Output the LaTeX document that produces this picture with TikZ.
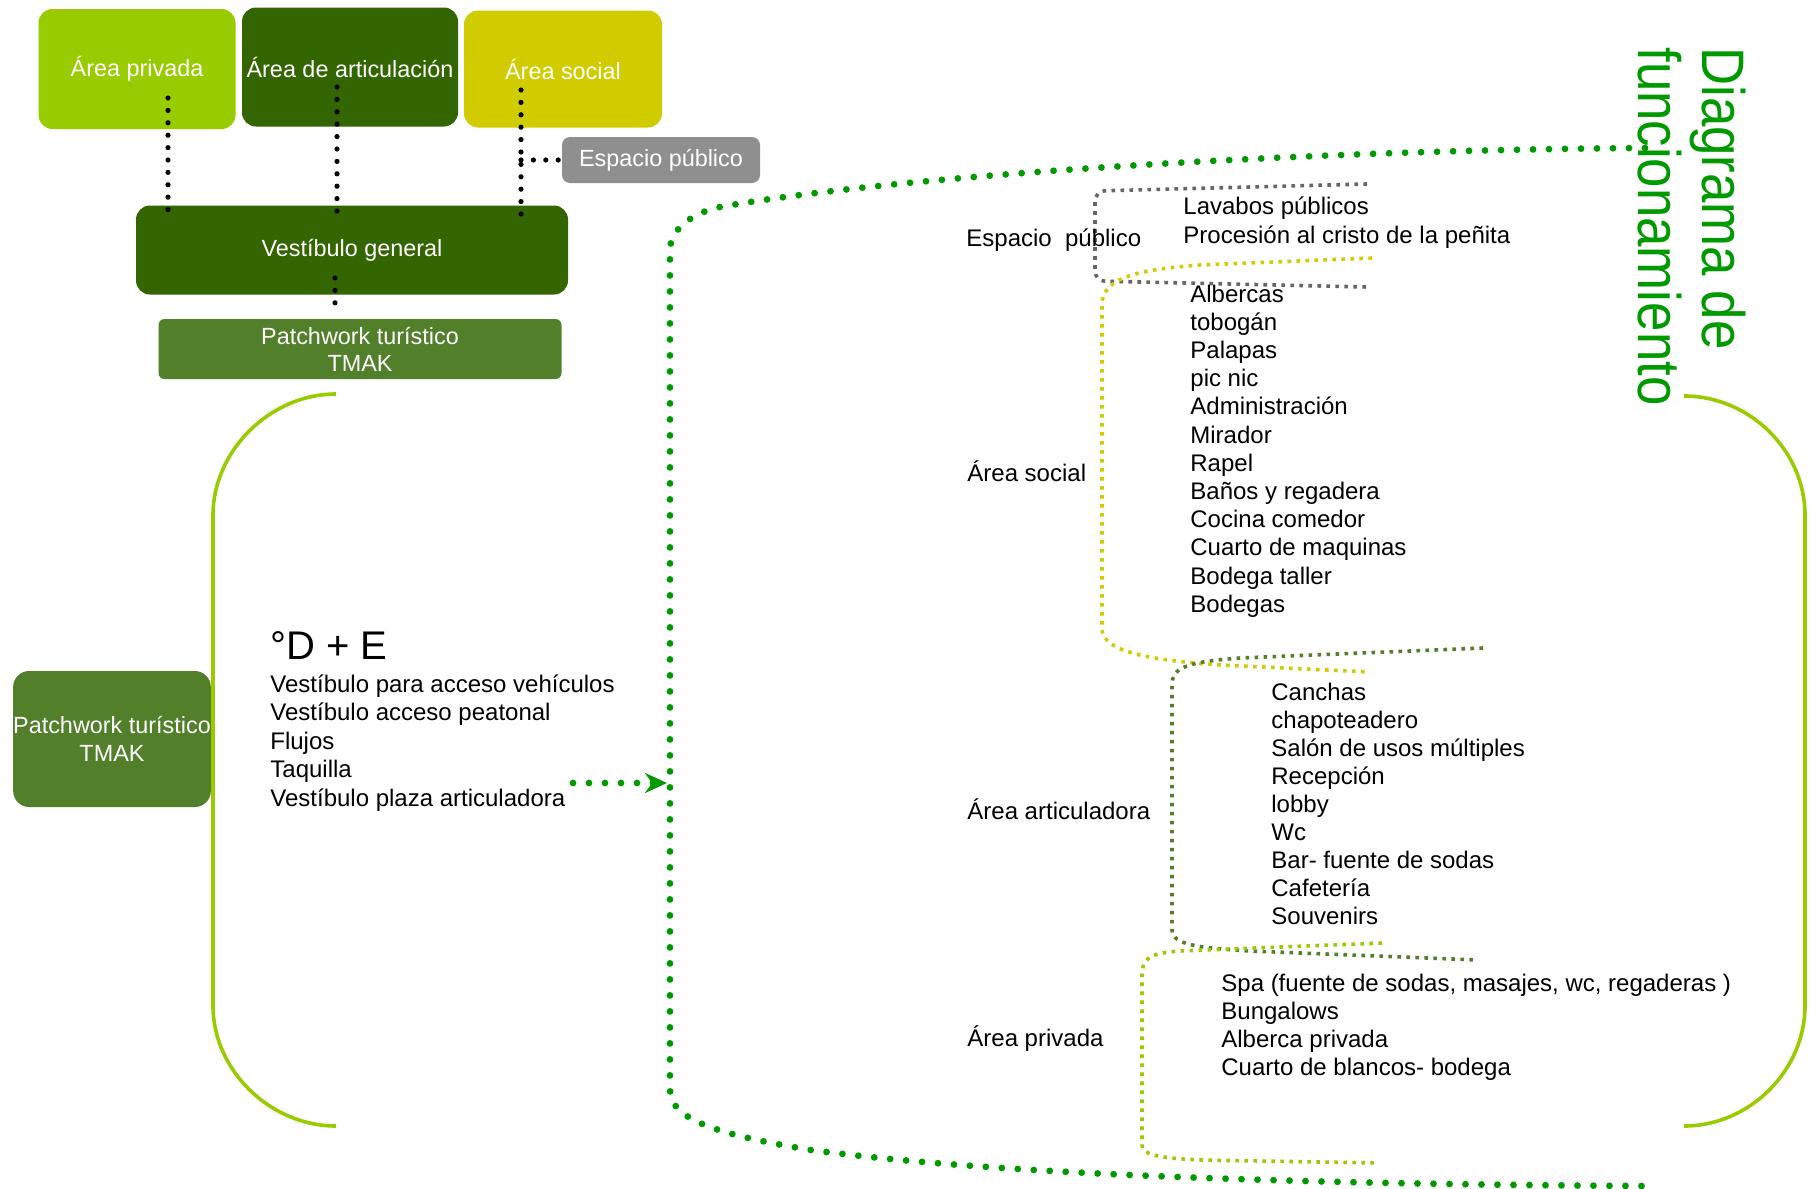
\documentclass[tikz,border=0pt]{standalone}
\usepackage{fontspec}
\setmainfont{Liberation Sans}
\newfontfamily\titlefont[FakeStretch=0.88]{Liberation Sans}
\usetikzlibrary{calc,arrows.meta}
\tikzset{>={Stealth[length=11pt,width=10pt]}}
\definecolor{lgreen}{HTML}{99CC00}
\definecolor{dgreen}{HTML}{336600}
\definecolor{socialyellow}{HTML}{D1CC00}
\definecolor{pgreen}{HTML}{527F2A}
\definecolor{dotgreen}{HTML}{009A00}
\definecolor{boxgray}{HTML}{8F8F8F}
\definecolor{bracketgray}{HTML}{666666}

\begin{document}
\begin{tikzpicture}[x=0.5pt, y=-0.5pt,
    areabox/.style={rounded corners=7pt, text=white, align=center, inner sep=0pt, font=\fontsize{11.7}{13.4}\selectfont},
    blackdots/.style={line width=2.6pt, dash pattern=on 0pt off 6.2pt, line cap=round},
    greendots/.style={dotgreen, line width=3.4pt, dash pattern=on 0pt off 8pt, line cap=round},
    smalldots/.style={line width=1.8pt, dash pattern=on 1.8pt off 2.7pt},
    brace/.style={lgreen, line width=1.8pt},
    item/.style={anchor=base west, inner sep=0pt, font=\fontsize{12}{14}\selectfont},
    titletext/.style={rotate=-90, anchor=base west, inner sep=0pt, text=dotgreen, font=\titlefont\fontsize{30}{32}\selectfont}]
    \useasboundingbox (0, 0) rectangle (1817, 1189);
    \fill[white](0, 0)rectangle(1817, 1189);
    % boxes
    \node[areabox, fill=lgreen, minimum width=98.5pt, minimum height=60pt] (privada) at (137, 69) {Área privada};
    \node[areabox, fill=dgreen, minimum width=108pt, minimum height=59.5pt] (articulacion) at (350, 67) {Área de articulación};
    \node[areabox, fill=socialyellow, minimum width=99pt, minimum height=58.5pt] (social) at (563, 69) {Área social};
    \node[areabox, fill=boxgray, rounded corners=4pt, minimum width=99pt, minimum height=23pt] (espacio) at (661, 160) {Espacio público};
    \node[areabox, fill=dgreen, minimum width=216pt, minimum height=44.5pt] (vestibulo) at (352, 250) {Vestíbulo general};
    \node[areabox, fill=pgreen, rounded corners=3pt, minimum width=201.5pt, minimum height=30pt] (patchtop) at (360, 349) {Patchwork turístico\\TMAK};
    \node[areabox, fill=pgreen, rounded corners=8pt, minimum width=98pt, minimum height=68pt, font=\fontsize{11.7}{14}\selectfont] (patchleft) at (112, 739) {Patchwork turístico\\TMAK};
    \draw[blackdots]($(privada.center)+(31, 29)$)--($(privada.center |- vestibulo.north)+(31, 5)$);
    \draw[blackdots]($(articulacion.center)+(-13, 20)$)--($(articulacion.center |- vestibulo.north)+(-13, 7)$);
    \draw[blackdots]($(social.center)+(-42, 21)$)--($(social.center |- vestibulo.north)+(-42, 14)$);
    \draw[blackdots]($(social.center |- espacio.west)+(-42, 0)$)--(espacio.west);
    \draw[blackdots]($(vestibulo.center)+(-17, 28)$)--($(patchtop.north)+(-25, -6)$);
    % braces
    \draw[brace](336, 394)..controls(270, 394)and(213, 451)..(213, 515)--(213, 1006)..controls(213, 1070)and(270, 1126)..(336, 1126);
    \draw[brace](1684, 396)..controls(1750, 396)and(1805, 451)..(1805, 515)--(1805, 1006)..controls(1805, 1070)and(1750, 1126)..(1684, 1126);
    \draw[greendots](1645, 148)..controls(1300, 150)and(900, 175)..(720, 207)..controls(695, 212)and(670, 228)..(670, 250)--(670, 1090)..controls(670, 1120)and(720, 1135)..(811, 1150)..controls(1000, 1175)and(1300, 1184)..(1645, 1186);
    \coordinate (arrowtail) at (573, 783);
    \coordinate (arrowtip) at (667, 783);
    \draw[greendots, ->](arrowtail)--(arrowtip);
    \draw[smalldots, bracketgray, rounded corners=5pt](1367, 184)--(1095, 191)--(1095, 281)--(1367, 287);
    \draw[smalldots, socialyellow](1372, 258)--(1200, 265)..controls(1130, 270)and(1102, 280)..(1102, 305)--(1102, 630)..controls(1104, 652)and(1150, 660)..(1220, 665)--(1370, 672);
    \draw[smalldots, pgreen](1483, 648)--(1240, 658)..controls(1185, 662)and(1172, 668)..(1172, 685)--(1172, 930)..controls(1172, 945)and(1200, 948)..(1250, 951)--(1478, 960);
    \draw[smalldots, lgreen](1382, 943)--(1180, 951)..controls(1150, 953)and(1142, 958)..(1142, 975)--(1142, 1145)..controls(1142, 1155)and(1160, 1158)..(1200, 1160)--(1379, 1163);
    % texts
    \node[titletext] (title1) at (1702, 47) {Diagrama de};
    \node[titletext] (title2) at (1638, 47) {funcionamiento};
    \node[item, font=\fontsize{20}{24}\selectfont] (de) at (270, 659) {°D + E};
    \foreach \txt [count=\i from 0] in {Vestíbulo para acceso vehículos, Vestíbulo acceso peatonal, Flujos, Taquilla, Vestíbulo plaza articuladora}
        \node[item] (de\i) at (270, 692+28.5*\i) {\txt};
    \node[item] (lblpublico) at (966, 246) {Espacio\ \ público};
    \node[item] (lblsocial) at (967, 481) {Área social};
    \node[item] (lblartic) at (967, 819) {Área articuladora};
    \node[item] (lblprivada) at (967, 1046) {Área privada};
    \node[item] (pub0) at (1183, 214) {Lavabos públicos};
    \node[item] (pub1) at (1183, 243) {Procesión al cristo de la peñita};
    \foreach \txt [count=\i from 0] in {Albercas, tobogán, Palapas, pic nic, Administración, Mirador, Rapel, Baños y regadera, Cocina comedor, Cuarto de maquinas, Bodega taller, Bodegas}
        \node[item] (soc\i) at (1190, 302+28.2*\i) {\txt};
    \foreach \txt [count=\i from 0] in {Canchas, chapoteadero, Salón de usos múltiples, Recepción, lobby, Wc, Bar- fuente de sodas, Cafetería, Souvenirs}
        \node[item] (art\i) at (1271, 700+28.1*\i) {\txt};
    \foreach \txt [count=\i from 0] in {{Spa (fuente de sodas, masajes, wc, regaderas )}, Bungalows, Alberca privada, Cuarto de blancos- bodega}
        \node[item] (pri\i) at (1221, 991+28.2*\i) {\txt};
\end{tikzpicture}
\end{document}
